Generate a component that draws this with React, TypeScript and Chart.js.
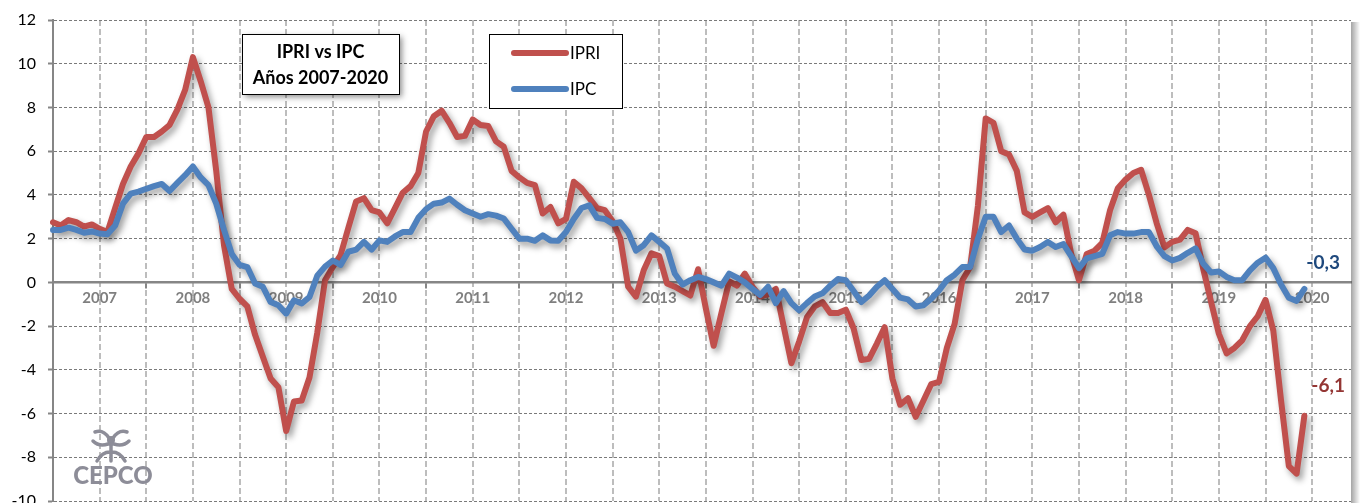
import React, { useEffect, useRef } from 'react';
import { Chart, registerables } from 'chart.js';

Chart.register(...registerables);

// ---- Data -------------------------------------------------------------
const YEARS = ['2007', '2008', '2009', '2010', '2011', '2012', '2013', '2014', '2015', '2016', '2017', '2018', '2019', '2020'];
const MONTHS = ['ene', 'feb', 'mar', 'abr', 'may', 'jun', 'jul', 'ago', 'sep', 'oct', 'nov', 'dic'];

// IPRI: monthly year-on-year change (%), Jan 2007 – Jun 2020
const IPRI = [
  2.75, 2.6, 2.85, 2.75, 2.55, 2.65, 2.45, 2.3, 3.4, 4.5, 5.3, 5.9,
  6.65, 6.65, 6.9, 7.2, 7.9, 8.8, 10.3, 9.2, 8.0, 5.1, 1.7, -0.3,
  -0.75, -1.1, -2.4, -3.4, -4.4, -4.8, -6.8, -5.45, -5.4, -4.35, -2.3, 0.1,
  0.7, 1.25, 2.5, 3.7, 3.85, 3.3, 3.2, 2.7, 3.4, 4.1, 4.4, 5.0,
  6.9, 7.6, 7.85, 7.3, 6.65, 6.7, 7.45, 7.2, 7.15, 6.45, 6.2, 5.1,
  4.8, 4.55, 4.45, 3.15, 3.45, 2.7, 2.9, 4.6, 4.3, 3.85, 3.4, 3.3,
  2.8, 2.0, -0.2, -0.65, 0.55, 1.33, 1.2, -0.05, -0.2, -0.4, -0.6, 0.6,
  -1.2, -2.9, -1.4, 0.05, -0.15, 0.4, -0.2, -0.65, -0.55, -0.3, -2.0, -3.7,
  -2.7, -1.6, -1.1, -0.9, -1.4, -1.4, -1.25, -2.1, -3.55, -3.5, -2.8, -2.05,
  -4.4, -5.6, -5.3, -6.15, -5.4, -4.65, -4.55, -3.0, -1.9, 0.1, 0.7, 3.5,
  7.5, 7.3, 6.0, 5.85, 5.1, 3.2, 3.0, 3.2, 3.4, 2.75, 3.1, 1.3,
  0.1, 1.3, 1.45, 1.8, 3.3, 4.3, 4.7, 5.0, 5.15, 4.0, 2.7, 1.6,
  1.85, 1.95, 2.4, 2.25, 0.6, -0.9, -2.35, -3.25, -3.0, -2.65, -2.0, -1.55,
  -0.8, -2.2, -5.4, -8.4, -8.75, -6.1,
];

// IPC: monthly year-on-year change (%), Jan 2007 – Jun 2020
const IPC = [
  2.4, 2.4, 2.5, 2.4, 2.27, 2.33, 2.23, 2.2, 2.6, 3.6, 4.06, 4.15,
  4.28, 4.4, 4.5, 4.18, 4.55, 4.9, 5.3, 4.8, 4.45, 3.6, 2.4, 1.3,
  0.8, 0.7, -0.05, -0.2, -0.9, -1.05, -1.43, -0.82, -0.97, -0.67, 0.3, 0.72,
  1.0, 0.8, 1.4, 1.5, 1.85, 1.5, 1.92, 1.85, 2.1, 2.3, 2.3, 2.95,
  3.35, 3.6, 3.65, 3.83, 3.55, 3.3, 3.15, 3.0, 3.12, 3.05, 2.92, 2.45,
  2.0, 2.0, 1.9, 2.15, 1.92, 1.9, 2.3, 2.9, 3.4, 3.52, 2.95, 2.9,
  2.68, 2.75, 2.3, 1.45, 1.7, 2.15, 1.85, 1.55, 0.4, -0.1, 0.1, 0.25,
  0.15, 0.0, -0.15, 0.4, 0.22, 0.0, -0.3, -0.58, -0.2, -0.95, -0.4, -0.95,
  -1.28, -0.95, -0.65, -0.5, -0.15, 0.15, 0.1, -0.4, -0.9, -0.6, -0.2, 0.1,
  -0.3, -0.7, -0.78, -1.1, -1.05, -0.75, -0.37, 0.1, 0.35, 0.7, 0.7, 2.0,
  3.0, 3.0, 2.3, 2.6, 2.0, 1.5, 1.45, 1.62, 1.85, 1.62, 1.75, 1.2,
  0.65, 1.1, 1.2, 1.3, 2.15, 2.3, 2.23, 2.23, 2.3, 2.3, 1.65, 1.2,
  1.0, 1.12, 1.35, 1.55, 0.85, 0.45, 0.5, 0.25, 0.1, 0.1, 0.55, 0.9,
  1.13, 0.65, -0.1, -0.7, -0.85, -0.3,
];

const SERIES_NAMES = ['IPRI', 'IPC'];
const LAST_LABELS = ['-6,1', '-0,3'];
const TITLE_LINES = ['IPRI vs IPC', 'Años 2007-2020'];
const LOGO_TEXT = 'CEPCO';
const Y_MIN = -10;
const Y_MAX = 12;
const Y_STEP = 2;

const LABELS = YEARS.flatMap((y) => MONTHS.map((m) => `${m}-${y.slice(2)}`));

// ---- Styling ----------------------------------------------------------
const RED = '#C0504D';
const BLUE = '#4F81BD';
const DARK_RED = '#943634';
const DARK_BLUE = '#1F497D';
const FONT = 'Lato, "Open Sans", sans-serif';

const overlayPlugin = {
  id: 'overlay',
  beforeDatasetsDraw(chart: any) {
    const ctx = chart.ctx;
    ctx.save();
    ctx.shadowColor = 'rgba(0,0,0,0.38)';
    ctx.shadowBlur = 6;
    ctx.shadowOffsetX = 3;
    ctx.shadowOffsetY = 4;
  },
  afterDatasetsDraw(chart: any) {
    chart.ctx.restore();
  },
  afterDraw(chart: any) {
    const ctx = chart.ctx;
    const area = chart.chartArea;
    const xs = chart.scales.x;
    const ys = chart.scales.y;

    // right-hand frame shadow
    ctx.save();
    const g = ctx.createLinearGradient(area.right, 0, area.right + 9, 0);
    g.addColorStop(0, 'rgba(90,90,90,0.55)');
    g.addColorStop(1, 'rgba(90,90,90,0)');
    ctx.fillStyle = g;
    ctx.fillRect(area.right, area.top + 2, 9, chart.height - area.top);
    ctx.restore();

    // title box
    ctx.save();
    const tb = { x: 242, y: 34, w: 157, h: 60 };
    ctx.shadowColor = 'rgba(0,0,0,0.45)';
    ctx.shadowBlur = 6;
    ctx.shadowOffsetX = 3;
    ctx.shadowOffsetY = 3;
    ctx.fillStyle = '#ffffff';
    ctx.fillRect(tb.x, tb.y, tb.w, tb.h);
    ctx.shadowColor = 'transparent';
    ctx.strokeStyle = '#000000';
    ctx.lineWidth = 1;
    ctx.strokeRect(tb.x + 0.5, tb.y + 0.5, tb.w, tb.h);
    ctx.fillStyle = '#000000';
    ctx.font = `bold 18px ${FONT}`;
    ctx.textAlign = 'center';
    ctx.textBaseline = 'middle';
    ctx.fillText(TITLE_LINES[0], tb.x + tb.w / 2, 52);
    ctx.fillText(TITLE_LINES[1], tb.x + tb.w / 2, 78);
    ctx.restore();

    // legend box
    ctx.save();
    const lb = { x: 489, y: 34, w: 133, h: 74 };
    ctx.fillStyle = '#ffffff';
    ctx.fillRect(lb.x, lb.y, lb.w, lb.h);
    ctx.strokeStyle = '#000000';
    ctx.lineWidth = 1;
    ctx.strokeRect(lb.x + 0.5, lb.y + 0.5, lb.w, lb.h);
    const legendRows = [
      { name: SERIES_NAMES[0], color: RED, y: 53 },
      { name: SERIES_NAMES[1], color: BLUE, y: 89 },
    ];
    ctx.lineCap = 'round';
    ctx.lineWidth = 6;
    ctx.font = `17px ${FONT}`;
    ctx.textAlign = 'left';
    ctx.textBaseline = 'middle';
    legendRows.forEach((r) => {
      ctx.strokeStyle = r.color;
      ctx.beginPath();
      ctx.moveTo(514, r.y);
      ctx.lineTo(566, r.y);
      ctx.stroke();
      ctx.fillStyle = '#000000';
      ctx.fillText(r.name, 570, r.y + 1);
    });
    ctx.restore();

    // end-value annotations
    ctx.save();
    ctx.font = `bold 19px ${FONT}`;
    ctx.textAlign = 'left';
    ctx.textBaseline = 'middle';
    const lastIdx = IPRI.length - 1;
    const px = xs.getPixelForValue(lastIdx);
    ctx.fillStyle = DARK_RED;
    ctx.fillText(LAST_LABELS[0], px + 7, ys.getPixelForValue(IPRI[lastIdx]) - 30);
    ctx.fillStyle = DARK_BLUE;
    ctx.fillText(LAST_LABELS[1], px + 2, ys.getPixelForValue(IPC[IPC.length - 1]) - 26);
    ctx.restore();

    // logo
    ctx.save();
    ctx.fillStyle = '#8d8d98';
    ctx.strokeStyle = '#8d8d98';
    ctx.lineWidth = 3.5;
    ctx.lineCap = 'round';
    const cx = 111;
    ctx.beginPath();
    ctx.arc(cx, 440, 4, 0, Math.PI * 2);
    ctx.fill();
    ctx.beginPath();
    ctx.moveTo(cx - 2, 438);
    ctx.quadraticCurveTo(cx - 8, 429, cx - 16, 432);
    ctx.moveTo(cx + 2, 438);
    ctx.quadraticCurveTo(cx + 8, 429, cx + 16, 432);
    ctx.moveTo(cx - 3, 444);
    ctx.quadraticCurveTo(cx - 12, 447, cx - 18, 441);
    ctx.moveTo(cx + 3, 444);
    ctx.quadraticCurveTo(cx + 12, 447, cx + 18, 441);
    ctx.moveTo(cx, 444);
    ctx.lineTo(cx, 461);
    ctx.moveTo(cx - 1, 452);
    ctx.quadraticCurveTo(cx - 9, 452, cx - 14, 461);
    ctx.moveTo(cx + 1, 452);
    ctx.quadraticCurveTo(cx + 9, 452, cx + 14, 461);
    ctx.stroke();
    ctx.font = `900 24px ${FONT}`;
    ctx.textAlign = 'center';
    ctx.textBaseline = 'middle';
    ctx.fillText(LOGO_TEXT, 113, 476);
    ctx.restore();
  },
};

export default function App() {
  const canvasRef = useRef<HTMLCanvasElement | null>(null);

  useEffect(() => {
    const canvas = canvasRef.current;
    if (!canvas) return;
    const chart = new Chart(canvas, {
      type: 'line',
      data: {
        labels: LABELS,
        datasets: [
          {
            label: SERIES_NAMES[0],
            data: IPRI,
            borderColor: RED,
            backgroundColor: RED,
            borderWidth: 6,
            pointRadius: 0,
            tension: 0,
            borderCapStyle: 'round',
            borderJoinStyle: 'round',
            order: 2,
          },
          {
            label: SERIES_NAMES[1],
            data: IPC,
            borderColor: BLUE,
            backgroundColor: BLUE,
            borderWidth: 6,
            pointRadius: 0,
            tension: 0,
            borderCapStyle: 'round',
            borderJoinStyle: 'round',
            order: 1,
          },
        ],
      },
      options: {
        responsive: false,
        animation: false,
        events: [],
        layout: { padding: { left: 0, top: 20, right: 9, bottom: 2 } },
        plugins: {
          legend: { display: false },
          tooltip: { enabled: false },
          title: { display: false },
        },
        scales: {
          x: {
            type: 'category',
            position: { y: 0 },
            offset: false,
            grid: {
              display: true,
              drawOnChartArea: true,
              drawTicks: true,
              tickLength: 5,
              offset: false,
              color: (c: any) => (c.index % 6 === 0 && c.index > 0 ? '#bdbdbd' : 'rgba(0,0,0,0)'),
              lineWidth: 2,
              tickColor: (c: any) => (c.index % 12 === 0 ? '#868686' : 'rgba(0,0,0,0)'),
              tickWidth: 2,
              tickBorderDash: [],
            },
            border: { display: true, color: '#868686', width: 2.5, dash: [6, 3] },
            ticks: {
              autoSkip: false,
              maxRotation: 0,
              minRotation: 0,
              padding: 2,
              color: '#7f7f7f',
              font: { family: FONT, size: 15, weight: 'bold' },
              callback: (_v: any, i: number) => (i % 12 === 6 ? YEARS[Math.floor(i / 12)] : ''),
            },
            afterFit: (s: any) => {
              s.paddingLeft = 0;
              s.paddingRight = 0;
            },
          },
          y: {
            type: 'linear',
            position: 'left',
            min: Y_MIN,
            max: Y_MAX,
            grid: {
              color: (c: any) => (c.tick && c.tick.value === 0 ? 'rgba(0,0,0,0)' : '#7a7a7a'),
              lineWidth: 1,
              drawTicks: true,
              tickLength: 5,
              tickColor: '#868686',
              tickWidth: 2,
              tickBorderDash: [],
            },
            border: { display: true, color: '#868686', width: 2, dash: [3, 2] },
            ticks: {
              stepSize: Y_STEP,
              padding: 12,
              color: '#000000',
              font: { family: FONT, size: 16 },
            },
            afterFit: (s: any) => {
              s.width = 53;
              s.paddingTop = 0;
              s.paddingBottom = 0;
            },
          },
        },
      },
      plugins: [overlayPlugin],
    } as any);
    return () => chart.destroy();
  }, []);

  return (
    <div style={{ position: 'absolute', left: 0, top: 0, width: 1360, height: 503, background: '#ffffff' }}>
      <canvas ref={canvasRef} width={1360} height={503} style={{ display: 'block' }} />
    </div>
  );
}
